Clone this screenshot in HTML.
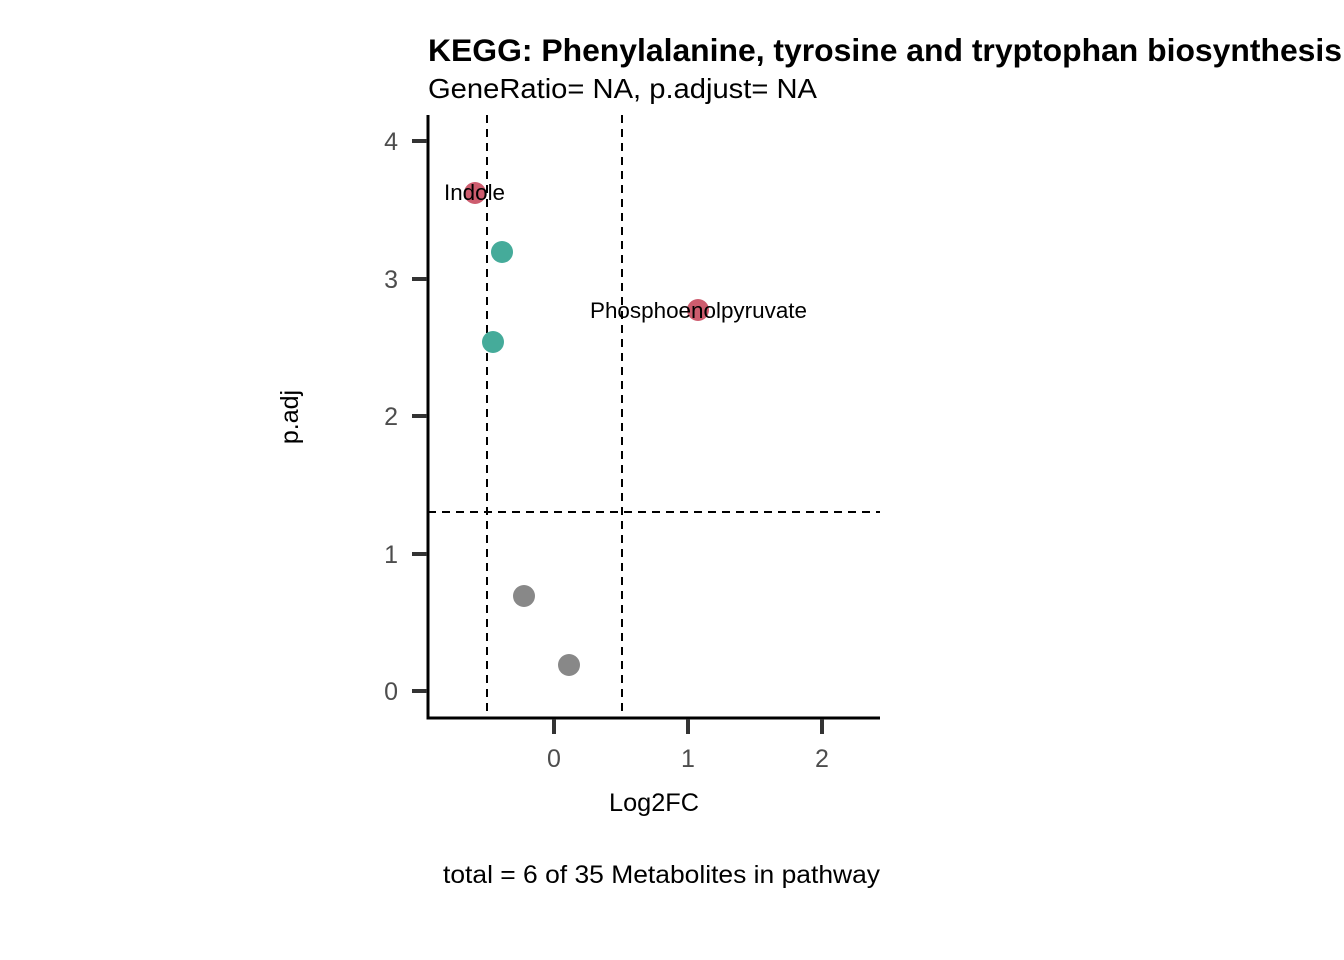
<!DOCTYPE html>
<html><head><style>
body{margin:0;background:#fff;}
svg{display:block;font-family:"Liberation Sans",Arial,sans-serif;}
</style></head><body>
<svg width="1344" height="960" viewBox="0 0 1344 960">
<rect width="1344" height="960" fill="#fff"/>
<text x="428" y="61" font-size="31.5" font-weight="bold" fill="#000" textLength="914" lengthAdjust="spacingAndGlyphs">KEGG: Phenylalanine, tyrosine and tryptophan biosynthesis</text>
<text x="428" y="98" font-size="28" fill="#000" textLength="389" lengthAdjust="spacingAndGlyphs">GeneRatio= NA, p.adjust= NA</text>
<g stroke="#000" stroke-width="2" stroke-dasharray="8,6" fill="none">
<line x1="487" y1="115" x2="487" y2="718"/>
<line x1="622" y1="115" x2="622" y2="718"/>
<line x1="428" y1="512" x2="880" y2="512"/>
</g>
<g>
<circle cx="475" cy="193" r="11" fill="#CD5C6E"/>
<circle cx="502" cy="252" r="11" fill="#45AB9A"/>
<circle cx="698" cy="310" r="11" fill="#CD5C6E"/>
<circle cx="493" cy="342" r="11" fill="#45AB9A"/>
<circle cx="524" cy="596" r="11" fill="#888888"/>
<circle cx="569" cy="665" r="11" fill="#888888"/>
</g>
<text x="444" y="200" font-size="22" fill="#000" textLength="61" lengthAdjust="spacingAndGlyphs">Indole</text>
<text x="590" y="318" font-size="22" fill="#000" textLength="217" lengthAdjust="spacingAndGlyphs">Phosphoenolpyruvate</text>
<line x1="428" y1="115" x2="428" y2="719.5" stroke="#000" stroke-width="3"/>
<line x1="426.5" y1="718" x2="880" y2="718" stroke="#000" stroke-width="3"/>
<g stroke="#333" stroke-width="4">
<line x1="412" y1="691" x2="427" y2="691"/>
<line x1="412" y1="554" x2="427" y2="554"/>
<line x1="412" y1="416" x2="427" y2="416"/>
<line x1="412" y1="279" x2="427" y2="279"/>
<line x1="412" y1="141" x2="427" y2="141"/>
<line x1="554" y1="719" x2="554" y2="734"/>
<line x1="688" y1="719" x2="688" y2="734"/>
<line x1="822" y1="719" x2="822" y2="734"/>
</g>
<g font-size="25" fill="#4d4d4d" text-anchor="end">
<text x="398" y="700">0</text>
<text x="398" y="563">1</text>
<text x="398" y="425">2</text>
<text x="398" y="288">3</text>
<text x="398" y="150">4</text>
</g>
<g font-size="25" fill="#4d4d4d" text-anchor="middle">
<text x="554" y="767">0</text>
<text x="688" y="767">1</text>
<text x="822" y="767">2</text>
</g>
<text x="609" y="811" font-size="25" fill="#000" textLength="90" lengthAdjust="spacingAndGlyphs">Log2FC</text>
<text transform="translate(298,417) rotate(-90)" font-size="25" text-anchor="middle" fill="#000">p.adj</text>
<text x="443" y="883" font-size="25" fill="#000" textLength="437" lengthAdjust="spacingAndGlyphs">total = 6 of 35 Metabolites in pathway</text>
</svg>
</body></html>
